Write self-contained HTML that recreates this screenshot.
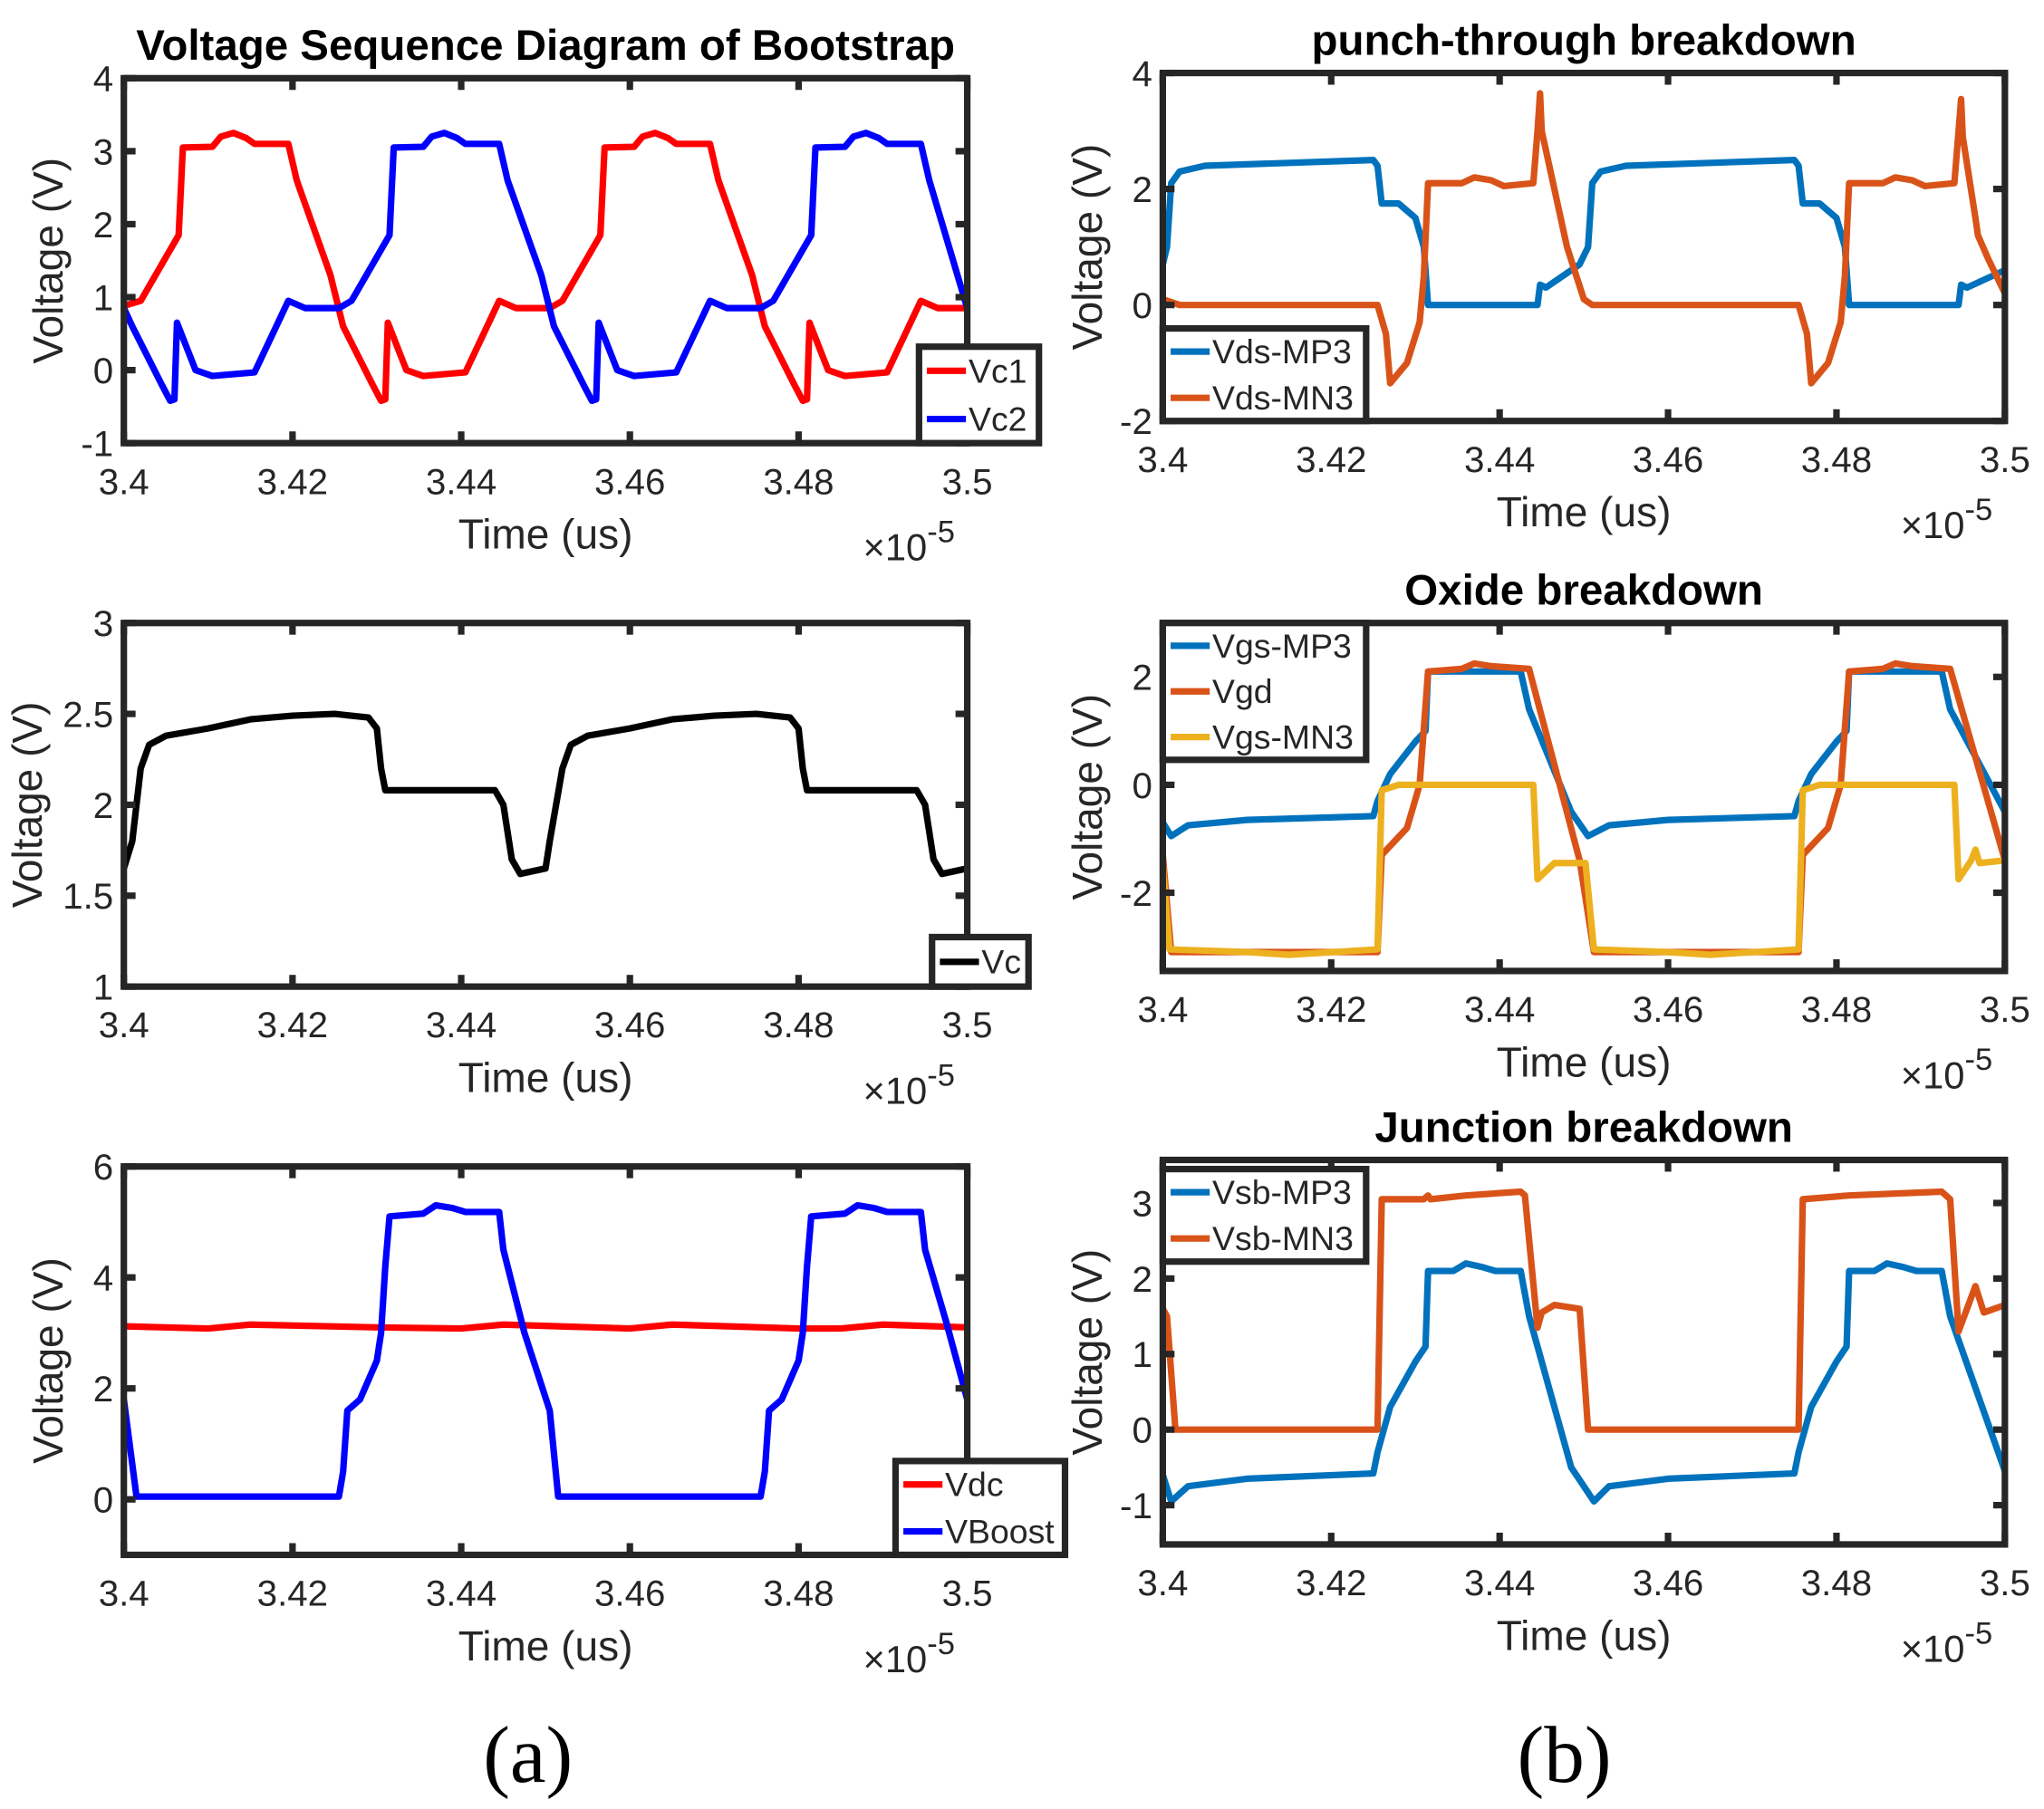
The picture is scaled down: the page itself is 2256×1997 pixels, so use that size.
<!DOCTYPE html>
<html><head><meta charset="utf-8"><style>
html,body{margin:0;padding:0;background:#fff;}
svg{display:block;}
text{font-family:"Liberation Sans",Arial,sans-serif;fill:#262626;}
</style></head><body>
<svg id="fig" width="2256" height="1997" viewBox="0 0 1568 1388" preserveAspectRatio="none" xmlns="http://www.w3.org/2000/svg">
<rect x="0" y="0" width="1568" height="1388" fill="#fff"/>
<text x="405" y="1367" font-size="62" text-anchor="middle" style="font-family:'Liberation Serif',serif;fill:#000">(a)</text>
<text x="1200" y="1367" font-size="62" text-anchor="middle" style="font-family:'Liberation Serif',serif;fill:#000">(b)</text>
</svg>
<script>
// ---- shared x axis ----
const xTicks = [3.40, 3.42, 3.44, 3.46, 3.48, 3.50];
const xTickLabels = ["3.4", "3.42", "3.44", "3.46", "3.48", "3.5"];

// ---- panel a1: Vc1 / Vc2 ----
const a1Time1 = [3.400,3.402,3.4065,3.407,3.4105,3.4115,3.413,3.4145,3.4155,3.4195,3.4205,3.4245,3.426,3.4295,3.4305,3.431,3.4313,3.4335,3.4355,3.4405,3.4445,3.4465,3.4505,3.452,3.4565,3.457,3.4605,3.4615,3.463,3.4645,3.4655,3.4695,3.4705,3.4745,3.476,3.4795,3.4805,3.481,3.4813,3.4835,3.4855,3.4905,3.4945,3.4965,3.500];
const a1Vc1 = [0.88,0.95,1.85,3.05,3.06,3.2,3.25,3.18,3.1,3.1,2.6,1.3,0.6,-0.2,-0.42,-0.4,0.65,0.0,-0.08,-0.03,0.95,0.85,0.85,0.95,1.85,3.05,3.06,3.2,3.25,3.18,3.1,3.1,2.6,1.3,0.6,-0.2,-0.42,-0.4,0.65,0.0,-0.08,-0.03,0.95,0.85,0.85];
const a1Time2 = [3.400,3.401,3.4045,3.4055,3.406,3.4063,3.4085,3.4105,3.4155,3.4195,3.4215,3.4255,3.427,3.4315,3.432,3.4355,3.4365,3.438,3.4395,3.4405,3.4445,3.4455,3.4495,3.451,3.4545,3.4555,3.456,3.4563,3.4585,3.4605,3.4655,3.4695,3.4715,3.4755,3.477,3.4815,3.482,3.4855,3.4865,3.488,3.4895,3.4905,3.4945,3.4955,3.500];
const a1Vc2 = [0.85,0.6,-0.2,-0.42,-0.4,0.65,0.0,-0.08,-0.03,0.95,0.85,0.85,0.95,1.85,3.05,3.06,3.2,3.25,3.18,3.1,3.1,2.6,1.3,0.6,-0.2,-0.42,-0.4,0.65,0.0,-0.08,-0.03,0.95,0.85,0.85,0.95,1.85,3.05,3.06,3.2,3.25,3.18,3.1,3.1,2.6,0.85];
const a1YTicks = [-1,0,1,2,3,4];

// ---- panel a2: Vc ----
const a2Time = [3.400,3.401,3.402,3.403,3.405,3.41,3.415,3.42,3.425,3.429,3.430,3.4305,3.431,3.4375,3.444,3.445,3.446,3.447,3.450,3.4505,3.452,3.453,3.455,3.46,3.465,3.47,3.475,3.479,3.480,3.4805,3.481,3.494,3.495,3.496,3.497,3.500];
const a2Vc = [1.65,1.8,2.2,2.33,2.38,2.42,2.47,2.49,2.5,2.48,2.42,2.2,2.08,2.08,2.08,2.0,1.7,1.62,1.65,1.8,2.2,2.33,2.38,2.42,2.47,2.49,2.5,2.48,2.42,2.2,2.08,2.08,2.0,1.7,1.62,1.65];
const a2YTicks = [1,1.5,2,2.5,3];
const a2YTickLabels = ["1","1.5","2","2.5","3"];

// ---- panel a3: Vdc / VBoost ----
const a3TimeDc = [3.400,3.410,3.415,3.430,3.440,3.445,3.460,3.465,3.480,3.485,3.490,3.500];
const a3Vdc = [3.12,3.08,3.15,3.1,3.08,3.15,3.08,3.15,3.08,3.08,3.15,3.1];
const a3TimeB = [3.400,3.4015,3.4255,3.426,3.4265,3.428,3.430,3.4305,3.431,3.4315,3.4355,3.437,3.439,3.4405,3.4445,3.445,3.4475,3.4505,3.4515,3.4755,3.476,3.4765,3.478,3.480,3.4805,3.481,3.4815,3.4855,3.487,3.489,3.4905,3.4945,3.495,3.4975,3.500];
const a3VBoost = [1.8,0.05,0.05,0.5,1.6,1.8,2.5,3.0,4.2,5.1,5.15,5.3,5.25,5.18,5.18,4.5,3.0,1.6,0.05,0.05,0.5,1.6,1.8,2.5,3.0,4.2,5.1,5.15,5.3,5.25,5.18,5.18,4.5,3.2,1.8];
const a3YTicks = [0,2,4,6];

// ---- panel b1: punch-through ----
const b1TimeP = [3.400,3.4005,3.401,3.402,3.405,3.415,3.425,3.4255,3.426,3.428,3.430,3.431,3.4315,3.4445,3.4448,3.4455,3.4495,3.4505,3.451,3.452,3.455,3.465,3.475,3.4755,3.476,3.478,3.480,3.481,3.4815,3.4945,3.4948,3.4955,3.500];
const b1VdsMP3 = [0.7,1.0,2.1,2.3,2.4,2.45,2.5,2.4,1.75,1.75,1.5,1.0,0.0,0.0,0.35,0.3,0.7,1.0,2.1,2.3,2.4,2.45,2.5,2.4,1.75,1.75,1.5,1.0,0.0,0.0,0.35,0.3,0.6];
const b1TimeN = [3.400,3.402,3.4255,3.4265,3.427,3.429,3.4305,3.431,3.4315,3.4355,3.437,3.439,3.4405,3.444,3.4445,3.4448,3.445,3.4465,3.448,3.450,3.451,3.4755,3.4765,3.477,3.479,3.4805,3.481,3.4815,3.4855,3.487,3.489,3.4905,3.494,3.4945,3.4948,3.495,3.4965,3.4968,3.498,3.500];
const b1VdsMN3 = [0.1,0.0,0.0,-0.5,-1.35,-1.0,-0.3,0.5,2.1,2.1,2.2,2.15,2.05,2.1,3.0,3.65,3.0,2.0,1.0,0.1,0.0,0.0,-0.5,-1.35,-1.0,-0.3,0.5,2.1,2.1,2.2,2.15,2.05,2.1,3.0,3.55,2.9,1.5,1.2,0.8,0.2];
const b1YTicks = [-2,0,2,4];

// ---- panel b2: oxide ----
const b2TimeP = [3.400,3.401,3.403,3.41,3.425,3.4255,3.427,3.430,3.4312,3.4315,3.4425,3.4435,3.4485,3.4505,3.453,3.46,3.475,3.4755,3.477,3.480,3.4812,3.4815,3.4925,3.4935,3.500];
const b2VgsMP3 = [-0.7,-0.95,-0.75,-0.65,-0.58,-0.3,0.2,0.8,1.0,2.1,2.1,1.4,-0.5,-0.95,-0.75,-0.65,-0.58,-0.3,0.2,0.8,1.0,2.1,2.1,1.4,-0.5];
const b2TimeGd = [3.400,3.401,3.4255,3.426,3.429,3.4305,3.4315,3.4355,3.437,3.439,3.4435,3.4495,3.4512,3.4755,3.476,3.479,3.4805,3.4815,3.4855,3.487,3.489,3.4935,3.500];
const b2Vgd = [-1.3,-3.1,-3.1,-1.3,-0.8,0.0,2.1,2.15,2.25,2.2,2.15,-1.4,-3.1,-3.1,-1.3,-0.8,0.0,2.1,2.15,2.25,2.2,2.15,-1.4];
const b2TimeN = [3.400,3.4008,3.41,3.415,3.4255,3.426,3.428,3.444,3.4445,3.4465,3.4502,3.4512,3.46,3.465,3.4755,3.476,3.478,3.494,3.4945,3.496,3.4965,3.497,3.500];
const b2VgsMN3 = [-1.5,-3.05,-3.1,-3.15,-3.05,-0.1,0.0,0.0,-1.75,-1.45,-1.45,-3.05,-3.1,-3.15,-3.05,-0.1,0.0,0.0,-1.75,-1.4,-1.2,-1.45,-1.4];
const b2YTicks = [-2,0,2];

// ---- panel b3: junction ----
const b3TimeP = [3.400,3.401,3.403,3.41,3.425,3.4255,3.427,3.430,3.4312,3.4315,3.4345,3.436,3.438,3.4395,3.4425,3.4435,3.4485,3.4512,3.453,3.46,3.475,3.4755,3.477,3.480,3.4812,3.4815,3.4845,3.486,3.488,3.4895,3.4925,3.4935,3.500];
const b3VsbMP3 = [-0.6,-0.95,-0.75,-0.65,-0.58,-0.3,0.3,0.9,1.1,2.1,2.1,2.2,2.15,2.1,2.1,1.5,-0.5,-0.95,-0.75,-0.65,-0.58,-0.3,0.3,0.9,1.1,2.1,2.1,2.2,2.15,2.1,2.1,1.5,-0.55];
const b3TimeN = [3.400,3.4005,3.4015,3.4255,3.426,3.431,3.4315,3.4318,3.436,3.4425,3.443,3.4445,3.445,3.4465,3.4495,3.4505,3.4755,3.476,3.4815,3.4925,3.4935,3.4945,3.4955,3.4965,3.4975,3.500];
const b3VsbMN3 = [1.6,1.5,0.0,0.0,3.05,3.05,3.1,3.05,3.1,3.15,3.1,1.35,1.55,1.65,1.6,0.0,0.0,3.05,3.1,3.15,3.05,1.3,1.6,1.9,1.55,1.65];
const b3YTicks = [-1,0,1,2,3];

const NS = "http://www.w3.org/2000/svg";
const svg = document.getElementById('fig');
function mk(tag, attrs, parent) {
  const e = document.createElementNS(NS, tag);
  for (const k in attrs) e.setAttribute(k, attrs[k]);
  (parent || svg).appendChild(e);
  return e;
}

function panel(p) {
  const g = mk('g', {});
  
  
  const xs = t => p.L + (t - 3.4) / 0.1 * (p.R - p.L);
  const ys = v => p.B - (v - p.ymin) / (p.ymax - p.ymin) * (p.B - p.T);
  if (p.title) {
    const tt = mk('text', {x: (p.L + p.R) / 2, y: p.T - 14, 'font-size': 33, 'font-weight': 'bold', 'text-anchor': 'middle', style: 'fill:#000'}, g);
    tt.textContent = p.title;
    
    
  }
  p.series.forEach(s => {
    let d = '';
    s.t.forEach((t, i) => { d += (i ? 'L' : 'M') + xs(t).toFixed(2) + ' ' + ys(s.v[i]).toFixed(2); });
    const path = mk('path', {d: d, fill: 'none', stroke: s.color, 'stroke-width': 5, 'stroke-linejoin': 'round'}, g);
    
    
  });
  const fr = mk('rect', {x: p.L, y: p.T, width: p.R - p.L, height: p.B - p.T, fill: 'none', stroke: '#262626', 'stroke-width': 5}, g);
  
  
  xTicks.forEach((t, i) => {
    const x = xs(t);
    mk('line', {x1: x, x2: x, y1: p.B, y2: p.B - 9, stroke: '#262626', 'stroke-width': 5}, g);
    mk('line', {x1: x, x2: x, y1: p.T, y2: p.T + 9, stroke: '#262626', 'stroke-width': 5}, g);
    const lb = mk('text', {x: x, y: p.B + 39, 'font-size': 28, 'text-anchor': 'middle'}, g);
    lb.textContent = xTickLabels[i];
    
    
  });
  p.yTicks.forEach((v, i) => {
    const y = ys(v);
    mk('line', {x1: p.L, x2: p.L + 9, y1: y, y2: y, stroke: '#262626', 'stroke-width': 5}, g);
    mk('line', {x1: p.R, x2: p.R - 9, y1: y, y2: y, stroke: '#262626', 'stroke-width': 5}, g);
    const lb = mk('text', {x: p.L - 8, y: y + 10, 'font-size': 28, 'text-anchor': 'end'}, g);
    lb.textContent = p.yLabels ? p.yLabels[i] : String(v);
    
    
  });
  const xl = mk('text', {x: (p.L + p.R) / 2, y: p.B + 81, 'font-size': 32, 'text-anchor': 'middle'}, g);
  xl.textContent = 'Time (us)';
  
  
  const ex = mk('text', {x: p.R - 80, y: p.B + 90, 'font-size': 29}, g);
  ex.innerHTML = '×10<tspan dy="-14" font-size="24">-5</tspan>';
  
  
  const yl = mk('text', {x: 0, y: 0, 'font-size': 32, 'text-anchor': 'middle', transform: `translate(${p.yLabelX},${(p.T + p.B) / 2}) rotate(-90)`}, g);
  yl.textContent = 'Voltage (V)';
  
  
  const lg = p.legend;
  const lgG = mk('g', {}, g);
  
  
  mk('rect', {x: lg.x, y: lg.y, width: lg.w, height: lg.h, fill: '#fff', stroke: '#262626', 'stroke-width': 5}, lgG);
  p.series.forEach((s, i) => {
    const ry = lg.y + lg.h / p.series.length * (i + 0.5);
    mk('line', {x1: lg.x + 6, x2: lg.x + 36, y1: ry, y2: ry, stroke: s.color, 'stroke-width': 5}, lgG);
    const tx = mk('text', {x: lg.x + 38, y: ry + 9, 'font-size': 26}, lgG);
    tx.textContent = s.label;
    
    
  });
}

const RED = '#ff0000', BLUE = '#0000ff', MB = '#0072BD', MO = '#D95319', MY = '#EDB120';
panel({name: 'chart-bootstrap-vc1-vc2', title: 'Voltage Sequence Diagram of Bootstrap', L: 95, R: 742, T: 60, B: 340, ymin: -1, ymax: 4, yTicks: a1YTicks, yLabelX: 48,
  series: [{label: 'Vc1', t: a1Time1, v: a1Vc1, color: RED}, {label: 'Vc2', t: a1Time2, v: a1Vc2, color: BLUE}],
  legend: {x: 705, y: 266, w: 92, h: 74}});
panel({name: 'chart-vc', L: 95, R: 742, T: 478, B: 757, ymin: 1, ymax: 3, yTicks: a2YTicks, yLabels: a2YTickLabels, yLabelX: 32,
  series: [{label: 'Vc', t: a2Time, v: a2Vc, color: '#000'}],
  legend: {x: 715, y: 719, w: 74, h: 38}});
panel({name: 'chart-vdc-vboost', L: 95, R: 742, T: 895, B: 1193, ymin: -1, ymax: 6, yTicks: a3YTicks, yLabelX: 48,
  series: [{label: 'Vdc', t: a3TimeDc, v: a3Vdc, color: RED}, {label: 'VBoost', t: a3TimeB, v: a3VBoost, color: BLUE}],
  legend: {x: 687, y: 1121, w: 130, h: 72}});
panel({name: 'chart-punch-through', title: 'punch-through breakdown', L: 892, R: 1538, T: 56, B: 323, ymin: -2, ymax: 4, yTicks: b1YTicks, yLabelX: 845,
  series: [{label: 'Vds-MP3', t: b1TimeP, v: b1VdsMP3, color: MB}, {label: 'Vds-MN3', t: b1TimeN, v: b1VdsMN3, color: MO}],
  legend: {x: 892, y: 252, w: 156, h: 71}});
panel({name: 'chart-oxide', title: 'Oxide breakdown', L: 892, R: 1538, T: 478, B: 745, ymin: -3.45, ymax: 3, yTicks: b2YTicks, yLabelX: 845,
  series: [{label: 'Vgs-MP3', t: b2TimeP, v: b2VgsMP3, color: MB}, {label: 'Vgd', t: b2TimeGd, v: b2Vgd, color: MO}, {label: 'Vgs-MN3', t: b2TimeN, v: b2VgsMN3, color: MY}],
  legend: {x: 892, y: 478, w: 156, h: 105}});
panel({name: 'chart-junction', title: 'Junction breakdown', L: 892, R: 1538, T: 890, B: 1185, ymin: -1.52, ymax: 3.57, yTicks: b3YTicks, yLabelX: 845,
  series: [{label: 'Vsb-MP3', t: b3TimeP, v: b3VsbMP3, color: MB}, {label: 'Vsb-MN3', t: b3TimeN, v: b3VsbMN3, color: MO}],
  legend: {x: 892, y: 897, w: 156, h: 71}});
</script>
</body></html>
